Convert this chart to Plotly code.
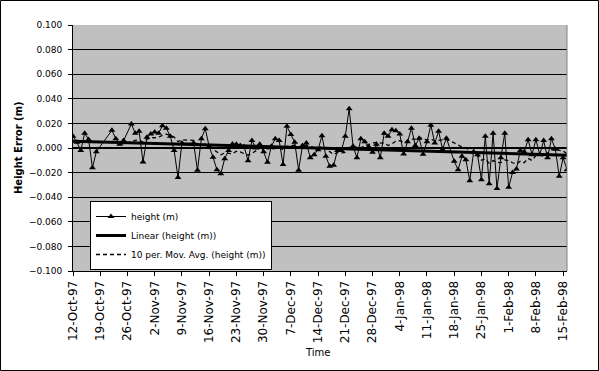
import plotly.graph_objects as go
import pandas as pd
import numpy as np

start_date = "1997-10-12"
day_offsets = [0, 1, 2, 3, 4, 5, 6, 10, 11, 12, 13, 15, 16, 17, 18, 19, 20, 21, 22, 23,
               24, 25, 26, 27, 28, 31, 32, 33, 34, 35, 36, 37, 38, 39, 40, 41, 42, 43, 44, 45,
               46, 47, 48, 49, 50, 51, 52, 53, 54, 55, 56, 57, 58, 59, 60, 61, 62, 63, 64, 65,
               66, 67, 68, 69, 70, 71, 72, 73, 74, 75, 76, 77, 78, 79, 80, 81, 82, 83, 84, 85,
               86, 87, 88, 89, 90, 91, 92, 93, 94, 95, 96, 98, 99, 100, 101, 102, 103, 104, 105, 106,
               107, 108, 109, 110, 111, 112, 113, 114, 115, 116, 117, 118, 119, 120, 121, 122, 123, 124, 125, 126,
               127]
height_m = [0.0095, 0.0046, -0.002, 0.012, 0.007, -0.016, -0.003, 0.0144, 0.0076, 0.003, 0.006, 0.0195, 0.012, 0.0136, -0.0114, 0.0087, 0.0114, 0.013, 0.012, 0.018,
            0.016, 0.0095, -0.002, -0.024, 0.004, 0.004, -0.018, 0.0076, 0.0157, 0.0014, -0.0076, -0.0176, -0.021, -0.0087, -0.002, 0.0033, 0.003, 0.002, 0.001, -0.0103,
            0.006, 0.0, 0.003, -0.003, -0.0116, 0.0014, 0.0076, 0.006, -0.0135, 0.0176, 0.011, 0.0046, -0.018, 0.002, 0.004, -0.008, -0.0055, -0.0014, 0.010, -0.0068,
            -0.0149, -0.014, -0.002, -0.002, 0.0095, 0.032, 0.0014, -0.008, 0.0076, 0.005, 0.001, -0.0035, 0.003, -0.008, 0.012, 0.0095, 0.0149, 0.014, 0.0114, -0.0049,
            0.005, 0.016, 0.002, 0.008, -0.005, 0.005, 0.0185, 0.004, 0.0136, -0.001, 0.008, -0.0108, -0.0176, -0.0068, -0.0095, -0.0266, -0.003, -0.0055, -0.0258, 0.0095,
            -0.029, 0.012, -0.033, -0.008, 0.012, -0.032, -0.020, -0.017, -0.002, -0.003, 0.0068, -0.0054, 0.0068, -0.0054, 0.006, -0.008, 0.0076, -0.001, -0.023, -0.008,
            -0.0176]

series_names = ["height (m)", "Linear (height (m))", "10 per. Mov. Avg. (height (m))"]
y_ticks = [-0.1, -0.08, -0.06, -0.04, -0.02, 0.0, 0.02, 0.04, 0.06, 0.08, 0.1]
x_start, x_end = "1997-10-12", "1998-02-16"

dates = pd.Timestamp(start_date) + pd.to_timedelta(day_offsets, unit="D")
s = pd.Series(height_m)
ma10 = s.rolling(10).mean()
idx = np.arange(1, len(s) + 1)
slope, intercept = np.polyfit(idx, s.values, 1)
trend = slope * idx + intercept

FONT = "DejaVu Sans"
fig = go.Figure()
fig.add_trace(go.Scatter(x=dates, y=ma10, mode="lines", name=series_names[2],
                         line=dict(color="black", width=1.3, dash="4px,3px")))
fig.add_trace(go.Scatter(x=dates, y=trend, mode="lines", name=series_names[1],
                         line=dict(color="black", width=3)))
fig.add_trace(go.Scatter(x=dates, y=height_m, mode="lines+markers", name=series_names[0],
                         line=dict(color="black", width=1),
                         marker=dict(symbol="triangle-up", size=6, color="black")))

L, R, T, B = 73, 32, 25, 100
W, H = 599, 371
pw, ph = W - L - R, H - T - B

fig.update_layout(
    width=W, height=H,
    margin=dict(l=L, r=R, t=T, b=B),
    paper_bgcolor="white", plot_bgcolor="#C0C0C0",
    font=dict(family=FONT, size=9, color="black"),
    showlegend=True,
    legend=dict(x=(90 - L) / pw, y=1 - (201 - T) / ph, xanchor="left", yanchor="top",
                bgcolor="white", bordercolor="black", borderwidth=1,
                font=dict(family=FONT, size=9), traceorder="reversed",
                itemwidth=30, tracegroupgap=0),
    xaxis=dict(type="date", range=[x_start, x_end], tick0=x_start, dtick=7 * 86400000,
               tickformat="%-d-%b-%y", tickangle=-90, ticks="outside", ticklen=4,
               tickcolor="black", showline=True, linecolor="black", linewidth=1,
               showgrid=False, zeroline=False, automargin=False,
               tickfont=dict(family=FONT, size=12)),
    yaxis=dict(range=[-0.1, 0.1], tickvals=y_ticks, tickformat=".3f",
               ticks="outside", ticklen=4, tickcolor="black",
               showline=True, linecolor="black", linewidth=1,
               showgrid=True, gridcolor="black", gridwidth=1,
               zeroline=True, zerolinecolor="black", zerolinewidth=2,
               automargin=False, ticklabelstandoff=4,
               tickfont=dict(family=FONT, size=9)),
    annotations=[
        dict(text="<b>Height Error (m)</b>", xref="paper", yref="paper",
             x=(18 - L) / pw, y=1 - (148 - T) / ph, textangle=-90, showarrow=False,
             xanchor="center", yanchor="middle", font=dict(family=FONT, size=10)),
        dict(text="Time", xref="paper", yref="paper",
             x=(317 - L) / pw, y=1 - (352 - T) / ph, showarrow=False,
             xanchor="center", yanchor="middle", font=dict(family=FONT, size=10)),
    ],
    shapes=[
        dict(type="line", xref="paper", yref="paper", x0=1, x1=1, y0=0, y1=1,
             line=dict(color="#808080", width=1)),
        dict(type="rect", xref="paper", yref="paper",
             x0=-(L - 0.5) / pw, x1=1 + (R - 0.5) / pw,
             y0=-(B - 0.5) / ph, y1=1 + (T - 0.5) / ph,
             line=dict(color="black", width=1)),
    ],
)

fig.write_html("out.html", config={"displayModeBar": False},
               post_script="document.body.style.margin='0';")
